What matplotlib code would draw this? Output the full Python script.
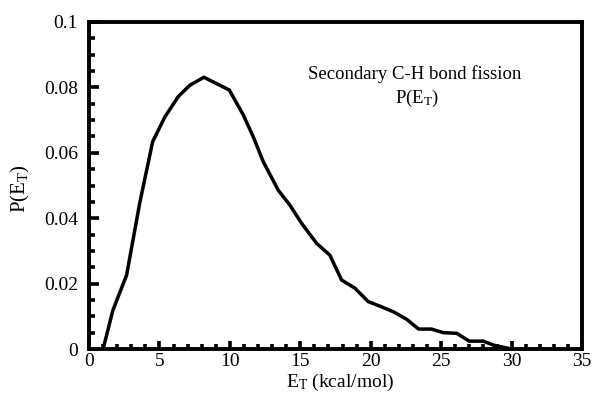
import matplotlib
matplotlib.use("Agg")
import matplotlib.pyplot as plt
from matplotlib.ticker import MultipleLocator

plt.rcParams['font.family'] = ['Liberation Serif', 'DejaVu Serif']
plt.rcParams['mathtext.fontset'] = 'custom'
plt.rcParams['mathtext.rm'] = 'Liberation Serif'
plt.rcParams['mathtext.it'] = 'Liberation Serif'

energy = [1.0, 1.7, 2.67, 3.6, 4.52, 5.39, 6.34, 7.17, 8.16, 9.96, 10.95, 11.66,
          12.37, 13.43, 14.26, 15.1, 16.16, 17.1, 17.93, 18.88, 19.82, 20.65,
          21.6, 22.55, 23.4, 24.3, 25.15, 26.1, 27.0, 28.0, 28.7, 30.0]
prob = [0.0, 0.0119, 0.0226, 0.0446, 0.0634, 0.0710, 0.0772, 0.0807, 0.0831,
        0.0792, 0.0716, 0.0649, 0.0573, 0.0486, 0.0440, 0.0384, 0.0323, 0.0287,
        0.0211, 0.0186, 0.0145, 0.0131, 0.0114, 0.0091, 0.0061, 0.0061, 0.0050,
        0.0048, 0.0024, 0.0024, 0.0012, 0.0]

x_ticks = [0, 5, 10, 15, 20, 25, 30, 35]
y_ticks = [0, 0.02, 0.04, 0.06, 0.08, 0.1]
y_ticklabels = ['0', '0.02', '0.04', '0.06', '0.08', '0.1']

fig = plt.figure(figsize=(5.92, 3.94), dpi=100)
ax = fig.add_axes([89/592, 1-349/394, (582-89)/592, (349-22)/394])

ax.plot(energy, prob, color='black', lw=2.5, solid_joinstyle='miter')

ax.set_xlim(0, 35)
ax.set_ylim(0, 0.1)
ax.set_xticks(x_ticks)
ax.set_xticklabels([str(t) for t in x_ticks])
ax.set_yticks(y_ticks)
ax.set_yticklabels(y_ticklabels)
ax.xaxis.set_minor_locator(MultipleLocator(1))
ax.yaxis.set_minor_locator(MultipleLocator(0.005))

for s in ax.spines.values():
    s.set_linewidth(2.8)

ax.tick_params(which='both', direction='in', width=2.6, labelsize=14,
               top=False, right=False, colors='black')
ax.tick_params(axis='y', which='major', length=7, pad=8)
ax.tick_params(axis='y', which='minor', length=4)
ax.tick_params(axis='x', which='major', length=6, pad=3)
ax.tick_params(axis='x', which='minor', length=3.5)

ax.set_xlabel(r'E$_{\mathrm{T}}$ (kcal/mol)', fontsize=14)
ax.xaxis.set_label_coords(0.51, -0.069)
ax.set_ylabel(r'P(E$_{\mathrm{T}}$)', fontsize=15)
ax.yaxis.set_label_coords(-0.115, 0.49)

ax.text(0.66, 0.84, 'Secondary C-H bond fission', transform=ax.transAxes,
        ha='center', va='center', fontsize=13.5)
ax.text(0.665, 0.765, r'P(E$_{\mathrm{T}}$)', transform=ax.transAxes,
        ha='center', va='center', fontsize=13.5)

fig.savefig('out.png', dpi=100)
